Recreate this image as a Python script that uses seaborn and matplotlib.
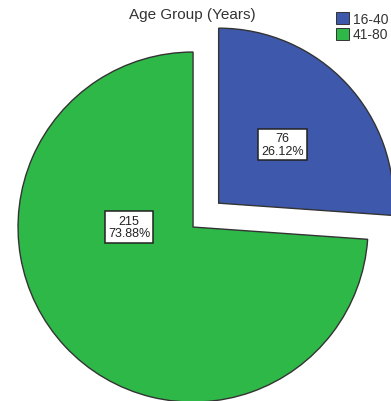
import matplotlib
matplotlib.use("Agg")
import matplotlib.pyplot as plt
import seaborn as sns
from matplotlib.patches import Patch

sns.set_style("white")
plt.rcParams["font.family"] = ["Liberation Sans", "DejaVu Sans"]

# Age groups and participant counts
groups = ["16-40", "41-80"]
counts = [76, 215]
colors = ["#3E58AC", "#2EB848"]

total = sum(counts)
pcts = [c / total * 100 for c in counts]

fig = plt.figure(figsize=(3.91, 4.02), dpi=100)
ax = fig.add_axes([0, 0, 1, 1])

wedges, _ = ax.pie(
    counts,
    colors=colors,
    startangle=90,
    counterclock=False,
    explode=[0.2, 0.0],
    radius=1.0,
    wedgeprops=dict(edgecolor="#333333", linewidth=1.0),
)

ax.set_xlim(-1.103, 1.131)
ax.set_ylim(-0.994, 1.303)
ax.set_aspect("auto")
ax.axis("off")

# Value labels in boxed text
label_pos = [(0.51, 0.47), (-0.366, 0.0)]
for (x, y), c, p in zip(label_pos, counts, pcts):
    ax.text(x, y, f"{c}\n{p:.2f}%", ha="center", va="center", fontsize=9,
            linespacing=1.1, color="#222222",
            bbox=dict(boxstyle="square,pad=0.25", facecolor="white",
                      edgecolor="#222222", linewidth=1.1))

fig.text(0.491, 0.962, "Age Group (Years)", ha="center", va="center",
         fontsize=11, color="#333333")

handles = [Patch(facecolor=col, edgecolor="#333333", linewidth=0.7, label=g)
           for col, g in zip(colors, groups)]
fig.legend(handles=handles, loc="upper right", bbox_to_anchor=(1.0, 0.975),
           frameon=False, fontsize=10, handlelength=0.95, handleheight=0.95,
           handletextpad=0.25, labelspacing=0.12, borderaxespad=0.1,
           borderpad=0.1, labelcolor="#333333")

fig.savefig("out.png", dpi=100)
